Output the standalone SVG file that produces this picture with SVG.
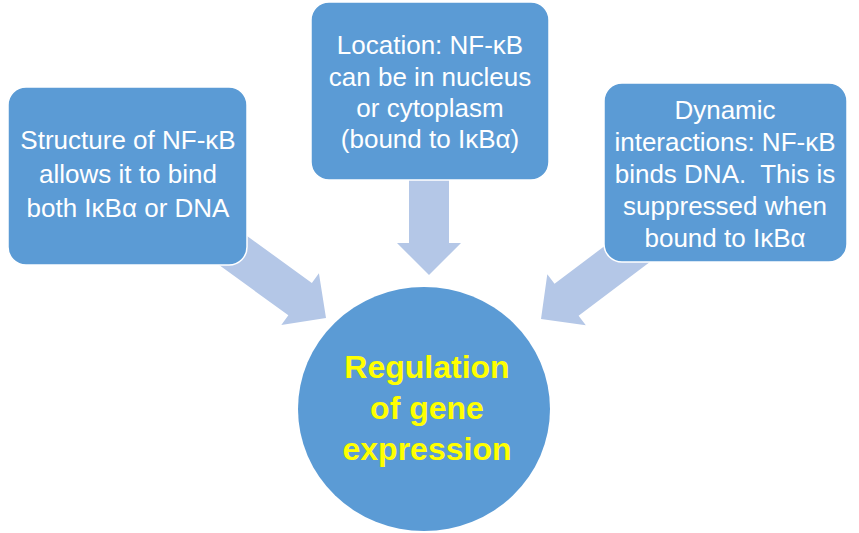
<svg xmlns="http://www.w3.org/2000/svg" width="859" height="533" viewBox="0 0 859 533">
<style>
.box{fill:#5B9BD5;stroke:#FFFFFF;stroke-width:1.5}
.arrow{fill:#B4C7E7}
.t{font-family:"Liberation Sans",Arial,sans-serif;font-size:26px;fill:#FFFFFF;text-anchor:middle;white-space:pre}
.c{font-family:"Liberation Sans",Arial,sans-serif;font-size:32px;font-weight:bold;fill:#FFFF00;text-anchor:middle}
</style>
<defs>
<polygon id="blk" points="0,0 -32,-32 -32,-20 -140,-20 -140,20 -32,20 -32,32"/>
</defs>
<rect width="859" height="533" fill="#FFFFFF"/>
<g id="connectors">
<use href="#blk" class="arrow" transform="translate(326,318) rotate(36)"/>
<use href="#blk" class="arrow" transform="translate(429,275) rotate(90)"/>
<use href="#blk" class="arrow" transform="translate(541,319) rotate(143)"/>
</g>
<g id="structure">
<rect class="box" x="8" y="87" width="239" height="178" rx="18"/>
<text class="t" x="128" y="149">Structure of NF-κB</text>
<text class="t" x="128" y="183">allows it to bind</text>
<text class="t" x="128" y="217">both IκBα or DNA</text>
</g>
<g id="location">
<rect class="box" x="311" y="2" width="238" height="178" rx="18"/>
<text class="t" x="430" y="54">Location: NF-κB</text>
<text class="t" x="430" y="86">can be in nucleus</text>
<text class="t" x="430" y="117">or cytoplasm</text>
<text class="t" x="430" y="148">(bound to IκBα)</text>
</g>
<g id="dynamic">
<rect class="box" x="604" y="83" width="243" height="179" rx="18"/>
<text class="t" x="725" y="119">Dynamic</text>
<text class="t" x="725" y="151">interactions: NF-κB</text>
<text class="t" x="725" y="183" xml:space="preserve">binds DNA.  This is</text>
<text class="t" x="725" y="215">suppressed when</text>
<text class="t" x="725" y="247">bound to IκBα</text>
</g>
<g id="regulation">
<ellipse cx="424" cy="409" rx="126" ry="122" fill="#5B9BD5"/>
<text class="c" x="427" y="378">Regulation</text>
<text class="c" x="427" y="419">of gene</text>
<text class="c" x="427" y="460">expression</text>
</g>
</svg>
